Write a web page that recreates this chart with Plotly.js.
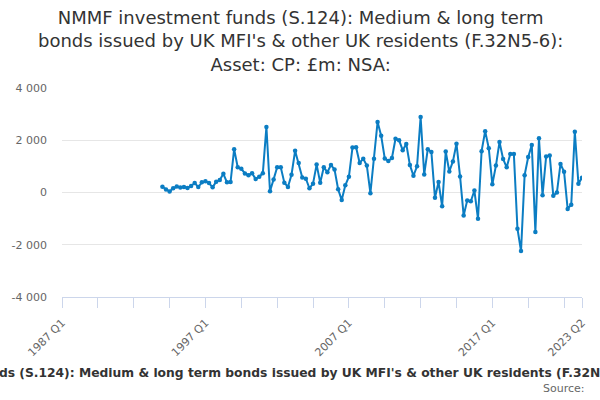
<!DOCTYPE html>
<html>
<head>
<meta charset="utf-8">
<script src="https://cdn.plot.ly/plotly-3.0.1.min.js"></script>
<style>
  html, body { margin: 0; padding: 0; background: #fff; }
  #chart { width: 600px; height: 400px; }
</style>
</head>
<body>
<div id="chart"></div>
<script>
// axis spans 1987 Q1 .. 2023 Q2, series starts 1994 Q1
const AXIS_START_YEAR = 1987;
const AXIS_END = "2023 Q2";
const SERIES_START_YEAR = 1994;

// £m, quarterly, 1994 Q1 .. 2023 Q2
const values = [
  219, 113, 38, 162, 226, 189, 211, 173, 249, 362,
  211, 388, 426, 362, 200, 415, 475, 716, 388, 400,
  1659, 965, 905, 728, 664, 739, 513, 603, 739, 2511,
  49, 501, 965, 965, 377, 211, 679, 1595, 1131, 577,
  528, 162, 339, 1067, 377, 965, 777, 1055, 878, 124,
  -290, 275, 603, 1719, 1734, 1131, 1293, 1029, -26, 1293,
  2700, 2172, 1304, 1206, 1319, 2058, 1998, 1621, 1859, 1056,
  641, 1003, 2888, 690, 1659, 1546, -204, 400, -528, 1568,
  803, 1191, 1870, 615, -882, -302, -339, 75, -1007, 1583,
  2349, 1697, 313, 1029, 1934, 1282, 965, 1470, 1470, -1384,
  -2239, 664, 1357, 1821, -1508, 2073, -102, 1380, 1417, -128,
  0, 1093, 792, -630, -467, 2322, 339, 565
];

const yTickVals = [-4000, -2000, 0, 2000, 4000];
const yTickText = ["-4 000", "-2 000", "0", "2 000", "4 000"];

const titleText = "NMMF investment funds (S.124): Medium & long term bonds issued by UK MFI's & other UK residents (F.32N5-6): Asset: CP: £m: NSA:";
const titleLines = [
  "NMMF investment funds (S.124): Medium & long term",
  "bonds issued by UK MFI's & other UK residents (F.32N5-6):",
  "Asset: CP: £m: NSA:"
];

function quarterLabels(startYear, endLabel) {
  const out = [];
  let y = startYear, q = 1;
  while (true) {
    const lab = y + " Q" + q;
    out.push(lab);
    if (lab === endLabel) break;
    q++;
    if (q > 4) { q = 1; y++; }
  }
  return out;
}

const allQuarters = quarterLabels(AXIS_START_YEAR, AXIS_END);
const seriesQuarters = quarterLabels(SERIES_START_YEAR, AXIS_END);

const tickVals = [], tickText = [];
allQuarters.forEach((lab, i) => {
  const last = i === allQuarters.length - 1;
  if (i % 10 === 0 || last) {
    tickVals.push(lab);
    tickText.push(i % 40 === 0 || last ? lab : "");
  }
});

const FONT = "DejaVu Sans, Verdana, sans-serif";

// plot area is 88px..297px from the top, 62px..582px across
const py = px => (297 - px) / 209;
const pxx = px => (px - 62) / 520;

const trace = {
  type: "scatter",
  mode: "lines+markers",
  x: seriesQuarters,
  y: values,
  line: { color: "#0b7dc3", width: 2 },
  marker: { color: "#0b7dc3", size: 4.5 },
  hoverinfo: "x+y",
  showlegend: false
};

const layout = {
  width: 600,
  height: 400,
  margin: { l: 62, r: 18, t: 88, b: 103 },
  paper_bgcolor: "#fff",
  plot_bgcolor: "#fff",
  font: { family: FONT, color: "#666", size: 11 },
  xaxis: {
    type: "category",
    categoryorder: "array",
    categoryarray: allQuarters,
    range: [0, allQuarters.length - 1],
    tickmode: "array",
    tickvals: tickVals,
    ticktext: tickText,
    tickangle: -45,
    ticks: "outside",
    ticklen: 10,
    tickcolor: "#ccd6eb",
    ticklabelstandoff: 4,
    showline: true,
    linecolor: "#ccd6eb",
    linewidth: 1,
    showgrid: false,
    zeroline: false,
    tickfont: { family: FONT, size: 11, color: "#666" }
  },
  yaxis: {
    range: [-4000, 4000],
    tickmode: "array",
    tickvals: yTickVals,
    ticktext: yTickText,
    showgrid: true,
    gridcolor: "#e6e6e6",
    zeroline: false,
    showline: false,
    ticks: "",
    ticklabelstandoff: 14,
    tickfont: { family: FONT, size: 11, color: "#666" }
  },
  annotations: [
    {
      text: titleLines.join("<br>"),
      xref: "paper", yref: "paper",
      x: pxx(300), y: py(41),
      xanchor: "center", yanchor: "middle",
      showarrow: false,
      font: { family: FONT, size: 18, color: "#333" }
    },
    {
      // series name, wider than the page and cut at both edges
      text: "<b>" + titleText + "</b>",
      xref: "paper", yref: "paper",
      x: pxx(311), y: py(373),
      xanchor: "center", yanchor: "middle",
      showarrow: false,
      font: { family: FONT, size: 12.3, color: "#333" }
    },
    {
      text: "Source:",
      xref: "paper", yref: "paper",
      x: pxx(587), y: py(388),
      xanchor: "right", yanchor: "middle",
      showarrow: false,
      font: { family: FONT, size: 11, color: "#666" }
    }
  ]
};

Plotly.newPlot("chart", [trace], layout, { displayModeBar: false });
</script>
</body>
</html>
